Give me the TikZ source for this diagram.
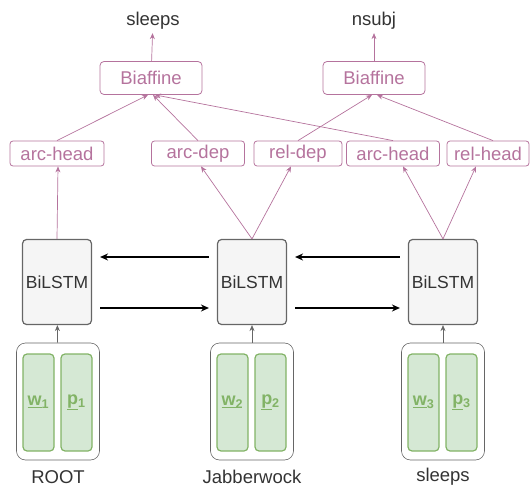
\documentclass[tikz,border=0pt]{standalone}
\usepackage{fontspec}
\setmainfont{Liberation Sans}
\usepackage{xcolor}
\usetikzlibrary{arrows.meta}
\definecolor{arcpink}{HTML}{B5739D}
\definecolor{lstmgray}{HTML}{666666}
\definecolor{lstmfill}{HTML}{F5F5F5}
\definecolor{embgreen}{HTML}{82B366}
\definecolor{embfill}{HTML}{D5E8D4}
\definecolor{labelgray}{HTML}{333333}

\begin{document}
\begin{tikzpicture}[x=1pt,y=-1pt]
\tikzset{every node/.style={font=\fontsize{18.5}{21}\selectfont}}
\tikzset{word/.style={text=labelgray}}
\tikzset{scorer/.style={draw=arcpink,text=arcpink,line width=0.8pt,rounded corners=4pt,minimum width=102pt,minimum height=33pt}}
\tikzset{mlp/.style={draw=arcpink,text=arcpink,line width=0.8pt,rounded corners=3pt,minimum height=25pt,inner sep=0pt}}
\tikzset{lstm/.style={draw=lstmgray,fill=lstmfill,text=labelgray,line width=1.2pt,rounded corners=4pt,minimum width=68pt,minimum height=85pt,font=\fontsize{17.5}{20}\selectfont}}
\tikzset{token/.style={draw=lstmgray,line width=0.6pt,rounded corners=9pt,minimum width=83pt,minimum height=117pt}}
\tikzset{emb/.style={draw=embgreen,fill=embfill,text=embgreen,line width=1.2pt,rounded corners=4pt,minimum width=31pt,minimum height=97pt,inner sep=0pt,font=\fontsize{18}{20}\selectfont\bfseries}}
\tikzset{pinkedge/.style={draw=arcpink,line width=0.7pt,-{Stealth[length=6pt,width=5pt]}}}
\tikzset{grayedge/.style={draw=lstmgray,line width=0.7pt,-{Stealth[length=6pt,width=5pt]}}}
\tikzset{recur/.style={draw=black,line width=1.2pt,-{Stealth[length=8pt,width=7pt]},shorten <=8pt,shorten >=8pt}}

\useasboundingbox (0,0) rectangle (530,489);

\node[word] (out1) at (153,21) {sleeps};
\node[word] (out2) at (374,21) {nsubj};
\node[scorer] (bi1) at (151,78) {Biaffine};
\node[scorer] (bi2) at (374,78) {Biaffine};

\node[mlp,minimum width=94pt] (archead1) at (57,153.5) {arc-head};
\node[mlp,minimum width=93pt] (arcdep) at (198,153.5) {arc-dep};
\node[mlp,minimum width=88pt] (reldep) at (298,153.5) {rel-dep};
\node[mlp,minimum width=93pt] (archead2) at (393,153.5) {arc-head};
\node[mlp,minimum width=82pt] (relhead) at (488,153.5) {rel-head};

\node[lstm] (lstm1) at (57,282) {BiLSTM};
\node[lstm] (lstm2) at (252,282) {BiLSTM};
\node[lstm] (lstm3) at (443,282) {BiLSTM};

\node[token] (tok1) at (58,401.5) {};
\node[token] (tok2) at (252,401.5) {};
\node[token] (tok3) at (443,401.5) {};
\node[emb] (w1) at (38.5,402.5) {\underline{w}\textsubscript{1}};
\node[emb] (p1) at (76.5,402.5) {\underline{p}\textsubscript{1}};
\node[emb] (w2) at (232.5,402.5) {\underline{w}\textsubscript{2}};
\node[emb] (p2) at (270.5,402.5) {\underline{p}\textsubscript{2}};
\node[emb] (w3) at (423.5,402.5) {\underline{w}\textsubscript{3}};
\node[emb] (p3) at (461.5,402.5) {\underline{p}\textsubscript{3}};

\node[word] (root) at (58,477) {ROOT};
\node[word] (jabber) at (252,477) {Jabberwock};
\node[word] (sleeps) at (443,477) {sleeps};

\draw[pinkedge] (bi1) -- (out1);
\draw[pinkedge] (bi2) -- (out2);
\draw[pinkedge] (archead1.north) -- ([xshift=-3pt]bi1.south);
\draw[pinkedge] (arcdep.north) -- ([xshift=2pt]bi1.south);
\draw[pinkedge] (archead2.north) -- ([xshift=4pt]bi1.south);
\draw[pinkedge] (reldep.north) -- ([xshift=-2pt]bi2.south);
\draw[pinkedge] ([xshift=5pt]relhead.north) -- ([xshift=3pt]bi2.south);

\draw[pinkedge] (lstm1.north) -- ([xshift=1pt]archead1.south);
\draw[pinkedge] (lstm2.north) -- ([xshift=3pt]arcdep.south);
\draw[pinkedge] (lstm2.north) -- ([xshift=-7pt]reldep.south);
\draw[pinkedge] (lstm3.north) -- ([xshift=10pt]archead2.south);
\draw[pinkedge] (lstm3.north) -- ([xshift=-12pt]relhead.south);

\draw[recur] ([yshift=25pt]lstm2.west) -- ([yshift=25pt]lstm1.east);
\draw[recur] ([yshift=25pt]lstm3.west) -- ([yshift=25pt]lstm2.east);
\draw[recur] ([yshift=-26pt]lstm1.east) -- ([yshift=-26pt]lstm2.west);
\draw[recur] ([yshift=-26pt]lstm2.east) -- ([yshift=-26pt]lstm3.west);

\draw[grayedge] (tok1) -- (lstm1);
\draw[grayedge] (tok2) -- (lstm2);
\draw[grayedge] (tok3) -- (lstm3);

\end{tikzpicture}
\end{document}
